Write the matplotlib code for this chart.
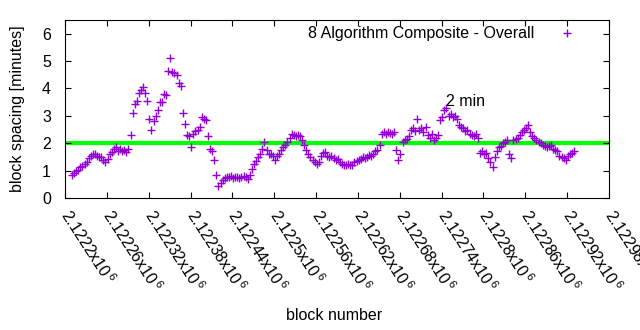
import matplotlib
matplotlib.use("Agg")
import matplotlib.pyplot as plt

# fonte parecida com a do gnuplot
plt.rcParams['font.family'] = ['Liberation Sans', 'DejaVu Sans']
plt.rcParams['mathtext.fontset'] = 'custom'
plt.rcParams['mathtext.rm'] = 'Liberation Sans'
plt.rcParams['font.size'] = 11.5

# dados: primeiro bloco, passo entre blocos e espacamento (minutos)
first_block = 2122210
block_step = 3
spacing = [
    0.85, 0.92, 0.98, 1.02, 1.12, 1.18, 1.25, 1.32, 1.45, 1.55,
    1.60, 1.62, 1.55, 1.50, 1.48, 1.38, 1.30, 1.42, 1.60, 1.68,
    1.78, 1.85, 1.72, 1.78, 1.70, 1.75, 1.68, 1.80, 2.30, 3.10,
    3.45, 3.55, 3.85, 3.95, 4.05, 3.85, 3.55, 2.90, 2.50, 2.80,
    3.00, 3.20, 3.50, 3.50, 3.80, 3.75, 4.65, 5.10, 4.60, 4.55,
    4.50, 4.20, 4.10, 3.10, 2.70, 2.30, 2.25, 1.85, 2.35, 2.45,
    2.50, 2.60, 2.95, 2.90, 2.85, 2.25, 1.80, 1.72, 1.38, 0.85,
    0.45, 0.55, 0.65, 0.72, 0.78, 0.75, 0.80, 0.72, 0.78, 0.75,
    0.72, 0.78, 0.80, 0.75, 0.70, 0.85, 1.05, 1.25, 1.35, 1.50,
    1.62, 1.80, 2.05, 1.75, 1.62, 1.60, 1.55, 1.40, 1.55, 1.60,
    1.75, 1.85, 1.95, 2.05, 2.20, 2.35, 2.30, 2.25, 2.30, 2.25,
    2.10, 1.95, 1.75, 1.60, 1.50, 1.40, 1.30, 1.25, 1.30, 1.55,
    1.65, 1.68, 1.55, 1.50, 1.52, 1.45, 1.40, 1.42, 1.30, 1.25,
    1.22, 1.20, 1.25, 1.20, 1.22, 1.30, 1.35, 1.38, 1.42, 1.50,
    1.45, 1.50, 1.58, 1.52, 1.60, 1.70, 1.75, 1.95, 2.35, 2.40,
    2.35, 2.40, 2.38, 2.35, 2.40, 1.75, 1.40, 1.60, 2.05, 2.10,
    2.15, 2.25, 2.50, 2.55, 2.45, 2.90, 2.50, 2.55, 2.40, 2.60,
    2.30, 2.20, 2.35, 2.10, 2.20, 2.30, 2.85, 2.95, 3.20, 3.30,
    3.00, 3.05, 2.95, 3.00, 2.90, 2.65, 2.60, 2.55, 2.45, 2.50,
    2.35, 2.30, 2.25, 2.35, 2.20, 1.65, 1.70, 1.60, 1.65, 1.45,
    1.30, 1.15, 1.50, 1.70, 1.85, 1.90, 2.00, 2.05, 2.10, 1.60,
    1.45, 2.10, 2.15, 2.20, 2.30, 2.40, 2.50, 2.55, 2.65, 2.40,
    2.25, 2.20, 2.10, 2.05, 2.00, 1.95, 1.90, 1.88, 1.90, 1.92,
    1.80, 1.75, 1.70, 1.55, 1.50, 1.45, 1.38, 1.55, 1.60, 1.65,
    1.70,
]
blocks = [first_block + block_step * i for i in range(len(spacing))]

# eixos
x_min, x_max, x_step = 2122200, 2122980, 60
target_minutes = 2
x_ticks = list(range(x_min, x_max + 1, x_step))
y_ticks = [0, 1, 2, 3, 4, 5, 6]

fig = plt.figure(figsize=(6.4, 3.3), dpi=100)
ax = fig.add_axes([65 / 640, 1 - 198 / 330, 544 / 640, 178 / 330])

# linha verde de 2 minutos
ax.axhline(target_minutes, xmin=0.004, xmax=0.996, color='#00ff00', linewidth=3, zorder=1)

# pontos
ax.plot(blocks, spacing, linestyle='none', marker='+', markersize=6, markeredgewidth=1,
        color='#9400d3', label='8 Algorithm Composite - Overall', zorder=2)

ax.text(2122746, 3.53, '2 min', ha='left', va='center')

ax.set_xlim(x_min, x_max)
ax.set_ylim(0, 6.5)
ax.set_xticks(x_ticks)
ax.set_xticklabels([f"{t / 1e6:g}x10$^{{\\,6}}$" for t in x_ticks], rotation=-57,
                   ha='left', va='center', rotation_mode='anchor')
ax.set_yticks(y_ticks)
ax.tick_params(direction='in', length=4, top=True, right=True, labelright=False)
ax.tick_params(axis='y', pad=10)
ax.tick_params(axis='x', pad=10)

ax.set_ylabel('block spacing [minutes]')
ax.yaxis.set_label_coords(-(65 - 25) / 544, 0.5)
fig.text(334 / 640, 1 - 315 / 330, 'block number', ha='center', va='center')

ax.legend(loc='upper right', bbox_to_anchor=(0.963, 1.0), frameon=False, markerfirst=False,
          numpoints=1, handlelength=2, handletextpad=1.0, borderaxespad=0)

fig.savefig('out.png', dpi=100)
